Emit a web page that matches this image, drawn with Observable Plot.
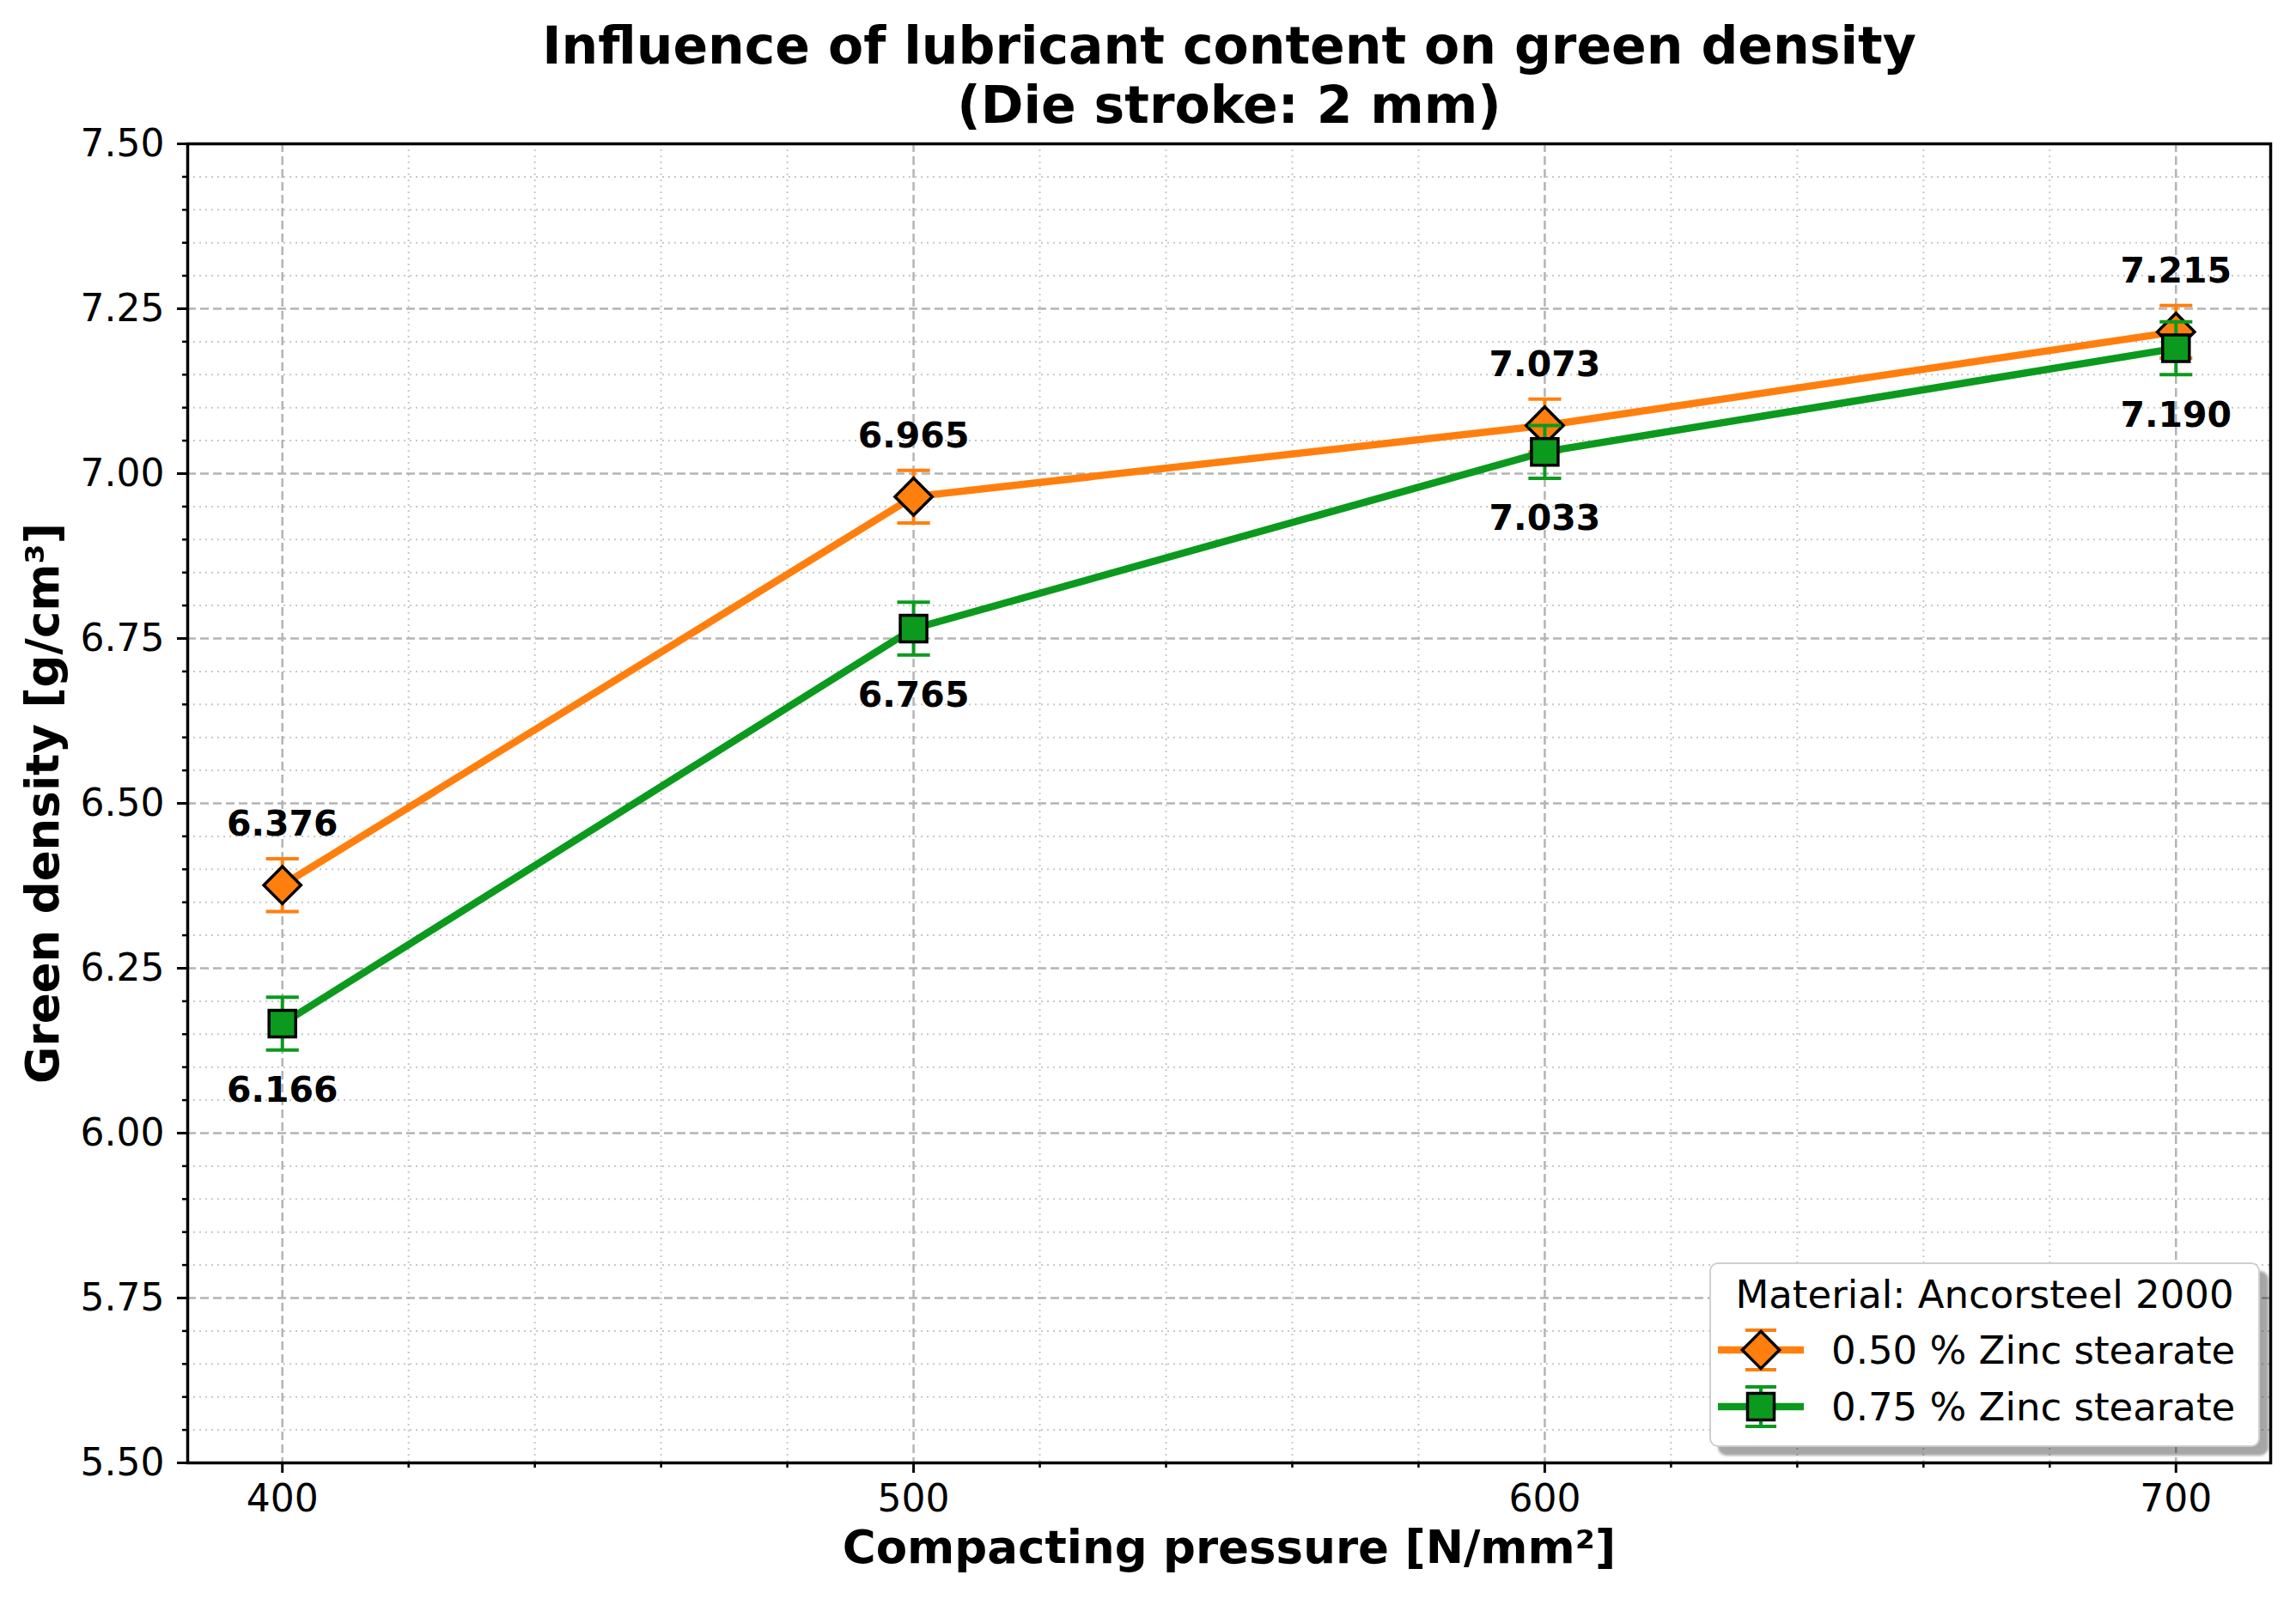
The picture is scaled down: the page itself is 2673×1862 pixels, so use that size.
<!DOCTYPE html>
<html>
<head>
<meta charset="utf-8">
<script src="https://cdn.jsdelivr.net/npm/d3@7"></script>
<script src="https://cdn.jsdelivr.net/npm/@observablehq/plot@0.6"></script>
<style>
  body { margin: 0; background: #fff; }
  #wrap { position: relative; width: 2673px; height: 1862px; font-family: "DejaVu Sans", sans-serif; }
  #legend {
    position: absolute; left: 1990px; top: 1470px; width: 641px; height: 215px;
    box-sizing: border-box; background: #fff; border: 2px solid #cfcfcf; border-radius: 10px;
    box-shadow: 10px 10px 3px rgba(0,0,0,0.35);
  }
  #legend .ttl { position: absolute; left: 0; right: 0; top: 9px; text-align: center; font-size: 45px; line-height: 54px; color: #000; }
  #legend .row { position: absolute; left: 8px; height: 60px; display: flex; align-items: center; }
  #legend .row span { font-size: 45px; color: #000; margin-left: 32px; }
</style>
</head>
<body>
<div id="wrap"></div>
<script>
// ---- data ----
const pressures = [400, 500, 600, 700];
const density050 = [6.376, 6.965, 7.073, 7.215];
const density075 = [6.166, 6.765, 7.033, 7.190];
const error050 = [0.04, 0.04, 0.04, 0.04];
const error075 = [0.04, 0.04, 0.04, 0.04];
const seriesNames = ["0.50 % Zinc stearate", "0.75 % Zinc stearate"];
const seriesColors = ["#ff7f0e", "#0b9a1d"];
const seriesSymbols = ["diamond2", "square"];
const legendTitle = "Material: Ancorsteel 2000";
const titleLines = ["Influence of lubricant content on green density", "(Die stroke: 2 mm)"];
const xLabel = "Compacting pressure [N/mm²]";
const yLabel = "Green density [g/cm³]";
const xMajorTicks = [400, 500, 600, 700];
const yMajorTicks = [5.5, 5.75, 6.0, 6.25, 6.5, 6.75, 7.0, 7.25, 7.5];
const xDomain = [385, 715];
const yDomain = [5.5, 7.5];

const xMinorTicks = d3.range(420, 700, 20).filter(v => v % 100 !== 0);
const yMinorTicks = d3.range(0, 41).map(i => +(5.5 + i * 0.05).toFixed(2))
  .filter(v => !yMajorTicks.some(m => Math.abs(m - v) < 1e-9));

const series = [
  pressures.map((p, i) => ({x: p, y: density050[i], err: error050[i]})),
  pressures.map((p, i) => ({x: p, y: density075[i], err: error075[i]}))
];

const capSymbol = {
  draw(ctx, size) {
    const w = Math.sqrt(size);
    ctx.moveTo(-w / 2, 0);
    ctx.lineTo(w / 2, 0);
  }
};

const labelOffsets = [-71, 78];
const markerR = [19.5, 17.5];

const seriesMarks = series.flatMap((data, s) => [
  Plot.line(data, {x: "x", y: "y", stroke: seriesColors[s], strokeWidth: 8.5, strokeLinejoin: "round"}),
  Plot.ruleX(data, {x: "x", y1: d => d.y - d.err, y2: d => d.y + d.err, stroke: seriesColors[s], strokeWidth: 4}),
  Plot.dot(data, {x: "x", y: d => d.y - d.err, symbol: capSymbol, r: 21.5, stroke: seriesColors[s], strokeWidth: 4, fill: "none"}),
  Plot.dot(data, {x: "x", y: d => d.y + d.err, symbol: capSymbol, r: 21.5, stroke: seriesColors[s], strokeWidth: 4, fill: "none"}),
  Plot.dot(data, {x: "x", y: "y", symbol: seriesSymbols[s], r: markerR[s], fill: seriesColors[s], stroke: "#000", strokeWidth: 3.5})
]);

const labelMarks = series.map((data, s) =>
  Plot.text(data, {x: "x", y: "y", text: d => d.y.toFixed(3), dy: labelOffsets[s], fontSize: 41, fontWeight: "bold", fill: "#000"})
);

const chart = Plot.plot({
  width: 2673,
  height: 1862,
  marginLeft: 218,
  marginRight: 30,
  marginTop: 167,
  marginBottom: 159,
  style: {fontFamily: "DejaVu Sans", background: "#fff", color: "#000"},
  x: {domain: xDomain, axis: null},
  y: {domain: yDomain, axis: null},
  marks: [
    Plot.gridX(xMinorTicks, {stroke: "#c8c8c8", strokeOpacity: 1, strokeWidth: 2, strokeDasharray: "2,5"}),
    Plot.gridY(yMinorTicks, {stroke: "#c8c8c8", strokeOpacity: 1, strokeWidth: 2, strokeDasharray: "2,5"}),
    Plot.gridX(xMajorTicks, {stroke: "#b4b4b4", strokeOpacity: 1, strokeWidth: 2.5, strokeDasharray: "10,5"}),
    Plot.gridY(yMajorTicks, {stroke: "#b4b4b4", strokeOpacity: 1, strokeWidth: 2.5, strokeDasharray: "10,5"}),
    Plot.axisX(xMinorTicks, {tickSize: 6, strokeWidth: 2.5, tickFormat: () => "", label: null}),
    Plot.axisY(yMinorTicks, {tickSize: 6, strokeWidth: 2.5, tickFormat: () => "", label: null}),
    Plot.axisX(xMajorTicks, {tickSize: 12, tickPadding: 13, strokeWidth: 3, fontSize: 44, tickFormat: d3.format("d"), label: null}),
    Plot.axisY(yMajorTicks, {tickSize: 12, tickPadding: 15, strokeWidth: 3, fontSize: 44, tickFormat: d3.format(".2f"), label: null}),
    ...seriesMarks,
    ...labelMarks,
    Plot.frame({stroke: "#000", strokeWidth: 3.5}),
    Plot.text([titleLines.join("\n")], {frameAnchor: "top", dy: -25, lineAnchor: "bottom", lineHeight: 1.14, fontSize: 60, fontWeight: "bold", fill: "#000"}),
    Plot.text([xLabel], {frameAnchor: "bottom", dy: 116, fontSize: 53, fontWeight: "bold", fill: "#000"}),
    Plot.text([yLabel], {frameAnchor: "left", dx: -167, rotate: -90, textAnchor: "middle", fontSize: 53, fontWeight: "bold", fill: "#000"})
  ]
});

const wrap = document.getElementById("wrap");
wrap.appendChild(chart);

// ---- legend ----
const legend = document.createElement("div");
legend.id = "legend";
const ttl = document.createElement("div");
ttl.className = "ttl";
ttl.textContent = legendTitle;
legend.appendChild(ttl);
const rowTops = [70, 136];
seriesNames.forEach((name, s) => {
  const row = document.createElement("div");
  row.className = "row";
  row.style.top = rowTops[s] + "px";
  const svg = d3.create("svg").attr("width", 100).attr("height", 60);
  svg.append("line").attr("x1", 0).attr("x2", 100).attr("y1", 30).attr("y2", 30)
    .attr("stroke", seriesColors[s]).attr("stroke-width", 8.5);
  svg.append("line").attr("x1", 50).attr("x2", 50).attr("y1", 7).attr("y2", 53)
    .attr("stroke", seriesColors[s]).attr("stroke-width", 4);
  [7, 53].forEach(cy => svg.append("line").attr("x1", 32).attr("x2", 68).attr("y1", cy).attr("y2", cy)
    .attr("stroke", seriesColors[s]).attr("stroke-width", 4));
  const sym = s === 0 ? d3.symbolDiamond2 : d3.symbolSquare;
  svg.append("path").attr("transform", "translate(50,30)")
    .attr("d", d3.symbol(sym, Math.PI * markerR[s] * markerR[s])())
    .attr("fill", seriesColors[s]).attr("stroke", "#000").attr("stroke-width", 3.5);
  row.appendChild(svg.node());
  const span = document.createElement("span");
  span.textContent = name;
  row.appendChild(span);
  legend.appendChild(row);
});
wrap.appendChild(legend);
</script>
</body>
</html>
